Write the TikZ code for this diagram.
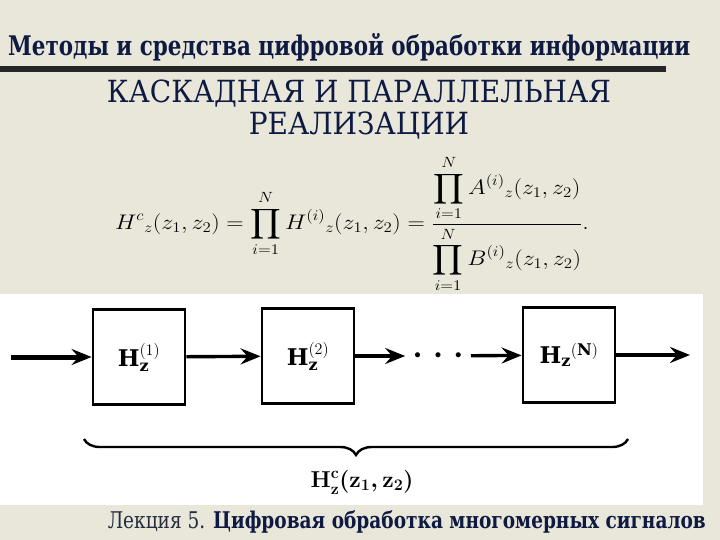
\documentclass[tikz,border=0pt]{standalone}
\usepackage{fix-cm}
\usepackage{amsmath,amssymb}
\usepackage{graphicx}
\usepackage{fontspec}
\setmainfont{DejaVu Serif}
\newfontfamily\slideserif{DejaVu Serif}
\usepackage{xcolor}
\usetikzlibrary{arrows.meta, positioning, decorations.pathreplacing}

\definecolor{slidebg}{RGB}{232,231,218}
\definecolor{titlenavy}{RGB}{14,26,66}
\definecolor{footgray}{RGB}{36,44,62}

\begin{document}
\begin{tikzpicture}[x=1pt, y=-1pt,
    block/.style={draw, line width=2.8pt, minimum width=92pt, minimum height=95pt, inner sep=0pt, font=\fontsize{23}{25}\selectfont},
    arr/.style={-{Stealth[length=20pt, width=16pt, inset=7pt]}, line width=3.4pt},
    brc/.style={decorate, decoration={brace, mirror, amplitude=16pt}, line width=2.4pt}
]
    \useasboundingbox (0,0) rectangle (720,540);
    % Slide background
    \fill[slidebg] (0,0) rectangle (720,540);
    \fill[white] (0,294) rectangle (703,505);

    % Heading
    \node[anchor=base west, inner sep=0pt, text=titlenavy, font=\slideserif\fontsize{27}{30}\selectfont\bfseries] (title) at (8,56) {\resizebox{682pt}{\height}{Методы и средства цифровой обработки информации}};
    \draw[line width=6pt, black!85] (0,69) -- (666,69);
    \node[inner sep=0pt, text=titlenavy, font=\slideserif\fontsize{30.5}{30}\selectfont] (subtitle) at (359,112) {\resizebox{504pt}{\height}{\begin{tabular}{@{}c@{}}КАСКАДНАЯ И ПАРАЛЛЕЛЬНАЯ\\РЕАЛИЗАЦИИ\end{tabular}}};

    % Formula
    \node[inner sep=0pt, font=\fontsize{24}{26}\selectfont] (formula) at (352,224) {\scalebox{1}[0.88]{$\displaystyle H^{c}{}_{z}(z_1,z_2)=\prod_{i=1}^{N}H^{(i)}{}_{z}(z_1,z_2)=\frac{\displaystyle\prod_{i=1}^{N}A^{(i)}{}_{z}(z_1,z_2)}{\displaystyle\prod_{i=1}^{N}B^{(i)}{}_{z}(z_1,z_2)}.$}};

    % Cascade of sections
    \node[block] (box1) at (139,357) {$\mathbf{H}_{\mathbf{z}}^{(1)}$};
    \node[block] (box2) at (308,356) {$\mathbf{H}_{\mathbf{z}}^{(2)}$};
    \node[inner sep=9pt, font=\fontsize{13}{13}\selectfont] (dots) at (438,356) {$\bullet\hspace{11pt}\bullet\hspace{11pt}\bullet$};
    \node[block] (boxN) at (569,355) {$\mathbf{H}_{\mathbf{z}}{}^{(\mathbf{N})}$};
    \coordinate (in)  at (11,357);
    \coordinate (out) at (690,355);

    \draw[arr, line width=5pt] (in) -- (box1);
    \draw[arr] (box1) -- (box2);
    \draw[arr] (box2) -- (dots);
    \draw[arr] (dots) -- (boxN);
    \draw[arr] (boxN) -- (out);

    % Total response
    \coordinate (bl) at (84,439);
    \coordinate (br) at (628,439);
    \draw[brc] (bl) -- (br);
    \node[font=\fontsize{23}{25}\selectfont\boldmath] (total) at (362,482) {$\mathbf{H}^{\mathbf{c}}_{\mathbf{z}}(\mathbf{z}_1,\mathbf{z}_2)$};

    % Footer
    \node[anchor=base east, inner sep=0pt, text=footgray, font=\slideserif\fontsize{23}{26}\selectfont] (footer) at (706,528) {\resizebox{598pt}{\height}{Лекция 5. \textcolor{titlenavy}{\bfseries Цифровая обработка многомерных сигналов}}};
\end{tikzpicture}
\end{document}
